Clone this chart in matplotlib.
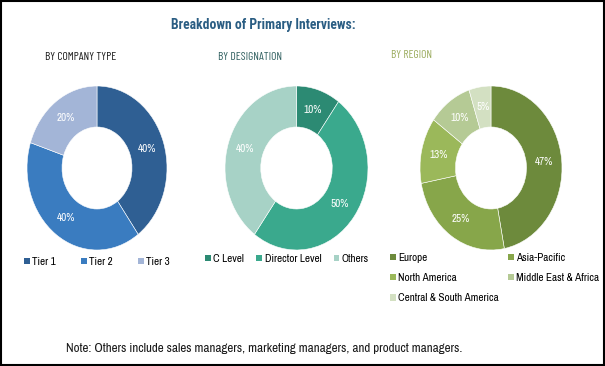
import matplotlib
matplotlib.use("Agg")
import matplotlib.pyplot as plt
from matplotlib.patches import Rectangle, Patch

plt.rcParams['font.family'] = ['Archivo Narrow', 'Roboto Condensed', 'DejaVu Sans']

title = "Breakdown of Primary Interviews:"
note = "Note: Others include sales managers, marketing managers, and product managers."

company_labels = ["Tier 1", "Tier 2", "Tier 3"]
company_values = [40, 40, 20]
company_colors = ["#2f5f93", "#3a7cc0", "#a3b5d7"]

designation_labels = ["C Level", "Director Level", "Others"]
designation_values = [10, 50, 40]
designation_colors = ["#2c8a73", "#3aa98d", "#a7d2c6"]

region_labels = ["Europe", "Asia-Pacific", "North America", "Middle East & Africa", "Central & South America"]
region_values = [47, 25, 13, 10, 5]
region_colors = ["#6d8a3c", "#87a64a", "#9bb85a", "#b5ca95", "#d3e0c2"]

W, H = 605, 366
fig = plt.figure(figsize=(W / 100, H / 100), dpi=100)
fig.patch.set_facecolor("white")
fig.add_artist(Rectangle((0.0015, 0.0025), 0.997, 0.995, transform=fig.transFigure,
                         fill=False, edgecolor="black", linewidth=1.5))


def fx(x):
    return x / W


def fy(y):
    return 1 - y / H


def donut(left, right, top, bottom, values, colors):
    ax = fig.add_axes([fx(left), fy(bottom), fx(right - left), (bottom - top) / H])
    wedges, texts = ax.pie(values, colors=colors, startangle=90, counterclock=False,
                           labels=[f"{v}%" for v in values], labeldistance=0.75,
                           wedgeprops=dict(width=0.5, edgecolor="white", linewidth=0.4),
                           textprops=dict(color="white", fontsize=8))
    for t in texts:
        t.set_ha("center")
        t.set_va("center")
    ax.set_aspect("auto")
    ax.set_xlim(-1, 1)
    ax.set_ylim(-1, 1)
    ax.axis("off")
    return ax


donut(27, 167, 86, 250, company_values, company_colors)
donut(225, 368, 86, 250, designation_values, designation_colors)
donut(420, 562, 86, 250, region_values, region_colors)

fig.text(fx(263), fy(25), title, ha="center", va="center", fontsize=9.8,
         fontweight="bold", color="#2a5d83", family=["Roboto Condensed", "DejaVu Sans"])
sub_font = ["Barlow Condensed", "Archivo Narrow", "DejaVu Sans"]
fig.text(fx(81), fy(57), "BY COMPANY TYPE", ha="center", va="center", fontsize=8.3,
         color="#1a1a1a", family=sub_font)
fig.text(fx(250), fy(57), "BY DESIGNATION", ha="center", va="center", fontsize=8.3,
         color="#2f5f5f", family=sub_font)
fig.text(fx(412), fy(55), "BY REGION", ha="center", va="center", fontsize=8.3,
         color="#9aab5c", family=sub_font)

fig.text(fx(264), fy(348), note, ha="center", va="center", fontsize=9.4, color="#1a1a1a")


def legend(labels, colors, x, y, ncol, colspacing, order=None):
    handles = [Patch(facecolor=c, edgecolor="none") for c in colors]
    if order is not None:
        handles = [handles[i] for i in order]
        labels = [labels[i] for i in order]
    leg = fig.legend(handles, labels, loc="upper left", bbox_to_anchor=(fx(x), fy(y)),
                     ncol=ncol, frameon=False, fontsize=8, handlelength=0.5, handleheight=0.5,
                     handletextpad=0.25, columnspacing=colspacing, borderpad=0,
                     borderaxespad=0, labelspacing=0.92)
    return leg


legend(company_labels, company_colors, 24, 257, 3, 2.25)
legend(designation_labels, designation_colors, 205, 254, 3, 1.1)
legend(region_labels, region_colors, 390, 253, 2, 0.8, order=[0, 2, 4, 1, 3])

fig.savefig("out.png", dpi=100, facecolor="white")
